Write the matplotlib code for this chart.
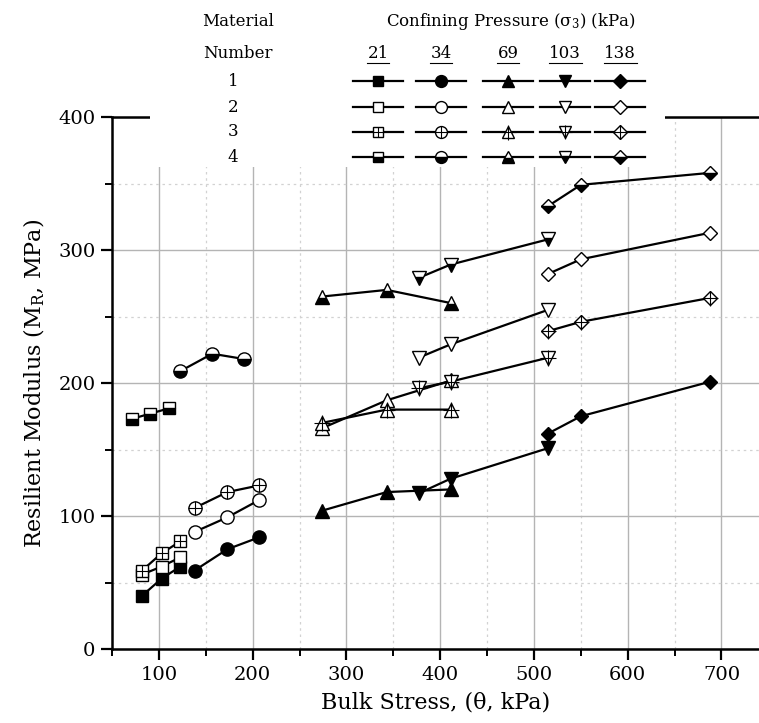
import matplotlib
matplotlib.use('Agg')
import matplotlib.pyplot as plt
from matplotlib.ticker import MultipleLocator

plt.rcParams['font.family'] = 'DejaVu Serif'
plt.rcParams['mathtext.fontset'] = 'dejavuserif'

pressures = ['21', '34', '69', '103', '138']
materials = ['1', '2', '3', '4']

# bulk stress (kPa) at each confining pressure
theta_21 = [82, 103, 123]
theta_34 = [138, 173, 207]
theta_69 = [274, 343, 412]
theta_103 = [377, 411, 515]
theta_138 = [515, 550, 688]
# material 4 was tested at slightly lower bulk stress for 21 and 34 kPa
theta4_21 = [71, 91, 111]
theta4_34 = [123, 157, 191]

# resilient modulus (MPa)
mr1_21 = [40, 53, 62]
mr1_34 = [59, 75, 84]
mr1_69 = [104, 118, 120]
mr1_103 = [117, 128, 151]
mr1_138 = [162, 175, 201]

mr2_21 = [56, 62, 69]
mr2_34 = [88, 99, 112]
mr2_69 = [166, 187, 202]
mr2_103 = [219, 229, 255]
mr2_138 = [282, 293, 313]

mr3_21 = [59, 72, 81]
mr3_34 = [106, 118, 123]
mr3_69 = [170, 180, 180]
mr3_103 = [196, 201, 219]
mr3_138 = [239, 246, 264]

mr4_21 = [173, 177, 181]
mr4_34 = [209, 222, 218]
mr4_69 = [265, 270, 260]
mr4_103 = [279, 289, 308]
mr4_138 = [333, 349, 358]

theta = {'21': theta_21, '34': theta_34, '69': theta_69, '103': theta_103, '138': theta_138}
theta4 = dict(theta, **{'21': theta4_21, '34': theta4_34})
mr = {
    '1': [mr1_21, mr1_34, mr1_69, mr1_103, mr1_138],
    '2': [mr2_21, mr2_34, mr2_69, mr2_103, mr2_138],
    '3': [mr3_21, mr3_34, mr3_69, mr3_103, mr3_138],
    '4': [mr4_21, mr4_34, mr4_69, mr4_103, mr4_138],
}

markers = ['s', 'o', '^', 'v', 'D']
msizes = [8.5, 9.5, 9.5, 9.5, 7.6]
cross = [8.5, 9.5, 12, 11, 10.8]


def draw(ax, x, y, mat, k, scale=1.0, **kw):
    style = dict(color='black', lw=1.6, marker=markers[k], ms=msizes[k] * scale,
                 mec='black', mew=1.0, **kw)
    if mat == '1':
        ax.plot(x, y, mfc='black', **style)
    elif mat == '2':
        ax.plot(x, y, mfc='white', **style)
    elif mat == '3':
        ax.plot(x, y, mfc='white', **style)
        ax.plot(x, y, ls='none', marker='+', ms=cross[k] * scale, mec='black', mew=0.8, **kw)
    else:
        ax.plot(x, y, mfc='black', mfcalt='white', fillstyle='bottom', **style)


fig = plt.figure(figsize=(7.59, 7.23), dpi=100)
W, H = 759, 723
ax = fig.add_axes([112 / W, (H - 649) / H, (W - 112) / W, 532 / H])

for mat in materials:
    xs = theta4 if mat == '4' else theta
    for k, p in enumerate(pressures):
        draw(ax, xs[p], mr[mat][k], mat, k, zorder=3)

ax.set_xlim(50, 740)
ax.set_ylim(0, 400)
ax.xaxis.set_major_locator(MultipleLocator(100))
ax.xaxis.set_minor_locator(MultipleLocator(50))
ax.yaxis.set_major_locator(MultipleLocator(100))
ax.yaxis.set_minor_locator(MultipleLocator(50))
ax.grid(which='major', color='#b4b4b4', lw=1.0)
ax.grid(which='minor', color='#d2d2d2', lw=0.9, ls=(0, (2, 3)))
ax.set_axisbelow(True)
ax.spines['right'].set_visible(False)
for s in ['left', 'bottom', 'top']:
    ax.spines[s].set_linewidth(1.8)
ax.tick_params(which='major', direction='out', length=8, width=1.6, labelsize=14, pad=4)
ax.tick_params(which='minor', direction='out', length=5, width=1.4)
ax.set_xlabel('Bulk Stress, (\u03b8, kPa)', fontsize=16, labelpad=6)
ax.set_ylabel('Resilient Modulus (M$_\\mathregular{R}$, MPa)', fontsize=16, labelpad=8)

# legend table drawn in its own white panel (pixel coordinates)
lg = fig.add_axes([150 / W, (H - 167) / H, 515 / W, 167 / H])
lg.set_xlim(150, 665)
lg.set_ylim(167, 0)
lg.set_xticks([])
lg.set_yticks([])
for s in lg.spines.values():
    s.set_visible(False)
lg.set_facecolor('white')

fs = 12
lg.text(238, 22, 'Material', ha='center', va='center', fontsize=fs)
lg.text(238, 53, 'Number', ha='center', va='center', fontsize=fs)
lg.text(511, 22, 'Confining Pressure (\u03c3$_\\mathregular{3}$) (kPa)', ha='center', va='center', fontsize=fs)
col_x = [378, 441, 508, 565, 620]
row_y = [81, 107, 132, 157]
for cx, p in zip(col_x, pressures):
    lg.text(cx, 53, p, ha='center', va='center', fontsize=fs)
    half = 5.5 * len(p)
    lg.plot([cx - half, cx + half], [63, 63], color='black', lw=0.8)
for ry, mat in zip(row_y, materials):
    lg.text(233, ry, mat, ha='center', va='center', fontsize=fs)
    for k, cx in enumerate(col_x):
        draw(lg, [cx - 25, cx, cx + 25], [ry, ry, ry], mat, k, scale=0.9, markevery=[1])

fig.savefig('out.png', dpi=100)
